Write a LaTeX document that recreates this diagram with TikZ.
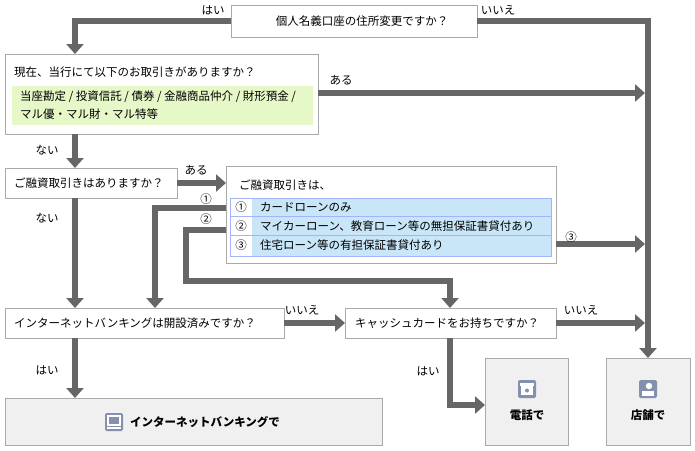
\documentclass[tikz,border=0pt]{standalone}
\usepackage{fontspec}
\setmainfont{Noto Sans CJK JP}
\usetikzlibrary{arrows.meta}
\definecolor{ar}{HTML}{666666}
\definecolor{bd}{HTML}{AAAAAA}
\definecolor{gr}{HTML}{E6F8C8}
\definecolor{bl}{HTML}{C8E6F8}
\definecolor{ic}{HTML}{8590AE}
\begin{document}
\begin{tikzpicture}[x=1pt,y=-1pt,font=\fontsize{11.5}{13}\selectfont,
 box/.style={draw=bd,fill=white,line width=0.8pt},
 fin/.style={draw=bd,fill=black!6,line width=0.8pt},
 arr/.style={draw=ar,line width=6pt,-{Triangle[length=10pt,width=17pt]}},
 lb/.style={anchor=center,inner sep=0pt}]
\useasboundingbox (0,0) rectangle (695,450);
% boxes
\draw[box] (231,5) rectangle (477,37);
\node[lb] (q1) at (362,21) {個人名義口座の住所変更ですか？};
\draw[box] (5,54) rectangle (318,134);
\node[lb,anchor=west] (q2) at (14,72) {現在、当行にて以下のお取引きがありますか？};
\fill[gr] (12,86) rectangle (313,125);
\node[lb,anchor=west] at (20,97) {当座勘定 / 投資信託 / 債券 / 金融商品仲介 / 財形預金 /};
\node[lb,anchor=west] at (20,114) {マル優・マル財・マル特等};
\draw[box] (5,168) rectangle (177,198);
\node[lb,anchor=west] (q3) at (14,183) {ご融資取引きはありますか？};
\draw[box] (226,166) rectangle (556,263);
\node[lb,anchor=west] (q4) at (239,185) {ご融資取引きは、};
\fill[bl] (230,198) rectangle (551,256);
\fill[white] (230,198) rectangle (252,256);
\draw[draw=bl!70!blue!80,line width=0.6pt] (230,198) rectangle (551,256) (230,216)--(551,216) (230,235)--(551,235);
\node[lb] at (241,207) {①};\node[lb,anchor=west] at (260,207) {カードローンのみ};
\node[lb] at (241,226) {②};\node[lb,anchor=west] at (260,226) {マイカーローン、教育ローン等の無担保証書貸付あり};
\node[lb] at (241,245) {③};\node[lb,anchor=west] at (260,245) {住宅ローン等の有担保証書貸付あり};
\draw[box] (5,308) rectangle (284,338);
\node[lb,anchor=west] (q5) at (14,323) {インターネットバンキングは開設済みですか？};
\draw[box] (345,308) rectangle (556,338);
\node[lb,anchor=west] (q6) at (355,323) {キャッシュカードをお持ちですか？};
\draw[fin] (485,358) rectangle (568,445);
\draw[fin] (606,358) rectangle (690,445);
\draw[fin] (5,398) rectangle (382,445);
% icons
\fill[ic,rounded corners=2pt] (518,380) rectangle (536,398);
\fill[white] (521,386) rectangle (533,395); \fill[white] (520,383) rectangle (534,386);
\fill[ic] (527,390.5) circle (2pt);
\fill[ic,rounded corners=2pt] (639,380) rectangle (657,398);
\fill[white] (649,386) circle (3.2pt); \fill[white] (642,391) rectangle (654,396);
\fill[ic,rounded corners=2pt] (105,413) rectangle (123,431);
\draw[white,line width=1.2pt] (108,416) rectangle (120,425); \fill[white] (107,427) rectangle (121,428.5);
\node[lb,font=\fontsize{11.5}{13}\selectfont\bfseries] (f1) at (527,415) {電話で};
\node[lb,font=\fontsize{11.5}{13}\selectfont\bfseries] (f2) at (648,415) {店舗で};
\node[lb,anchor=west,font=\fontsize{11.5}{13}\selectfont\bfseries] (f3) at (130,422) {インターネットバンキングで};
% arrows
\draw[arr] (231,21) -- (75,21) -- (75,54);
\draw[arr] (477,21) -- (648,21) -- (648,358);
\draw[arr] (318,93) -- (645,93);
\draw[arr] (75,134) -- (75,168);
\draw[arr] (177,183) -- (226,183);
\draw[arr] (75,198) -- (75,308);
\draw[arr] (226,208) -- (155,208) -- (155,308);
\draw[arr] (226,230) -- (186,230) -- (186,281) -- (450,281) -- (450,308);
\draw[arr] (556,244) -- (645,244);
\draw[arr] (284,323) -- (345,323);
\draw[arr] (556,323) -- (645,323);
\draw[arr] (450,338) -- (450,405) -- (485,405);
\draw[arr] (75,338) -- (75,398);
% labels
\node[lb] at (213,10) {はい};
\node[lb] at (498,10) {いいえ};
\node[lb] at (341,80) {ある};
\node[lb] at (47,150) {ない};
\node[lb] at (196,170) {ある};
\node[lb] at (47,218) {ない};
\node[lb] at (206,199) {①};
\node[lb] at (206,219) {②};
\node[lb] at (571,237) {③};
\node[lb] at (302,310) {いいえ};
\node[lb] at (581,310) {いいえ};
\node[lb] at (428,371) {はい};
\node[lb] at (47,370) {はい};
\end{tikzpicture}
\end{document}
